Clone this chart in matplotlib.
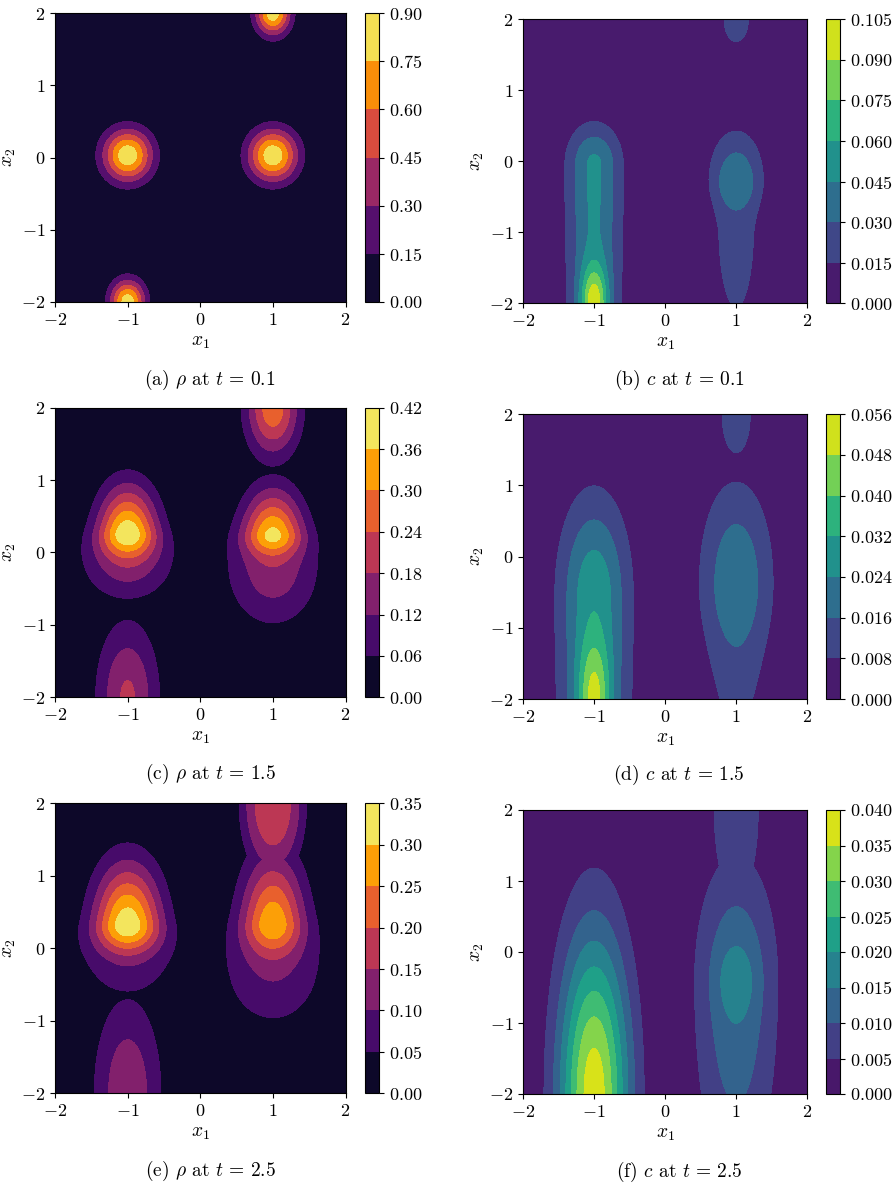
import numpy as np
import matplotlib
matplotlib.use("Agg")
import matplotlib.pyplot as plt

plt.rcParams['font.family'] = 'serif'
plt.rcParams['font.serif'] = ['cmr10']
plt.rcParams['mathtext.fontset'] = 'cm'
plt.rcParams['axes.formatter.use_mathtext'] = True
plt.rcParams['font.size'] = 13

# humps: (group, x0, y0, peak, sx, sy_up, sy_down, power)
# humps of one group add up, separate groups are combined by max
rho_t01 = [(0, -1.0, 0.03, 0.86, 0.235, 0.25, 0.25, 2),
           (1, 1.0, 0.03, 0.86, 0.235, 0.25, 0.25, 2),
           (2, -1.0, -2.0, 0.84, 0.165, 0.21, 0.21, 2),
           (3, 1.0, 2.0, 0.84, 0.165, 0.21, 0.21, 2)]
c_t01 = [(0, -1.0, -0.05, 0.048, 0.27, 0.40, 3.0, 2),
         (0, -1.0, -2.0, 0.064, 0.13, 0.37, 0.37, 2),
         (1, 1.0, -0.18, 0.031, 0.31, 0.53, 0.40, 3),
         (1, 1.0, -0.9, 0.021, 0.30, 0.45, 1.40, 2),
         (2, 1.0, 2.0, 0.025, 0.17, 0.31, 0.31, 2)]
rho_t15 = [(0, -1.0, 0.30, 0.345, 0.28, 0.45, 0.22, 2),
           (0, -1.0, -0.10, 0.16, 0.42, 0.30, 0.38, 2),
           (1, 1.0, 0.27, 0.30, 0.28, 0.446, 0.20, 2),
           (1, 1.0, -0.20, 0.16, 0.43, 0.40, 0.55, 2),
           (2, 1.0, 2.0, 0.28, 0.25, 0.46, 0.46, 2),
           (3, -1.0, -2.0, 0.19, 0.29, 0.70, 0.70, 2)]
c_t15 = [(0, -1.0, -0.55, 0.030, 0.34, 0.95, 3.0, 2),
         (0, -1.0, -2.0, 0.025, 0.15, 0.55, 0.55, 2),
         (1, 1.0, -0.28, 0.021, 0.36, 0.95, 0.80, 2),
         (1, 1.0, -2.0, 0.008, 0.33, 1.00, 1.00, 2),
         (2, 1.0, 2.0, 0.012, 0.22, 0.60, 0.60, 2)]
rho_t25 = [(0, -1.0, 0.35, 0.305, 0.32, 0.58, 0.26, 2),
           (0, -1.0, -0.10, 0.08, 0.50, 0.35, 0.50, 2),
           (1, 1.0, 0.38, 0.255, 0.30, 0.65, 0.30, 2),
           (1, 1.0, -0.25, 0.10, 0.50, 0.45, 0.60, 2),
           (2, 1.0, 2.0, 0.18, 0.34, 0.80, 0.80, 3),
           (3, -1.0, -2.0, 0.14, 0.32, 0.90, 0.90, 2)]
c_t25 = [(0, -1.0, -2.0, 0.038, 0.35, 1.58, 1.58, 2),
         (1, 1.0, -0.42, 0.0145, 0.40, 1.22, 1.97, 2),
         (1, 1.0, -0.42, 0.0045, 0.20, 0.35, 0.35, 2),
         (2, 1.0, 2.0, 0.0085, 0.30, 1.20, 1.20, 2)]

rho_t01_levels = [0.0, 0.15, 0.30, 0.45, 0.60, 0.75, 0.90]
c_t01_levels = [0.0, 0.015, 0.030, 0.045, 0.060, 0.075, 0.090, 0.105]
rho_t15_levels = [0.0, 0.06, 0.12, 0.18, 0.24, 0.30, 0.36, 0.42]
c_t15_levels = [0.0, 0.008, 0.016, 0.024, 0.032, 0.040, 0.048, 0.056]
rho_t25_levels = [0.0, 0.05, 0.10, 0.15, 0.20, 0.25, 0.30, 0.35]
c_t25_levels = [0.0, 0.005, 0.010, 0.015, 0.020, 0.025, 0.030, 0.035, 0.040]

captions = [r'(a) $\rho$ at $t\,=\,0.1$', r'(b) $c$ at $t\,=\,0.1$',
            r'(c) $\rho$ at $t\,=\,1.5$', r'(d) $c$ at $t\,=\,1.5$',
            r'(e) $\rho$ at $t\,=\,2.5$', r'(f) $c$ at $t\,=\,2.5$']

x = np.linspace(-2, 2, 301)
X, Y = np.meshgrid(x, x)


def field(humps, top):
    groups = {}
    for g, x0, y0, a, sx, su, sd, p in humps:
        sy = np.where(Y >= y0, su, sd)
        r2 = (X - x0)**2 / sx**2 + (Y - y0)**2 / sy**2
        z = a * np.exp(-0.5 * r2**(p / 2.0))
        groups[g] = groups.get(g, 0) + z
    Z = np.max(np.array(list(groups.values())), axis=0)
    return np.clip(Z, 0, top * 0.999)


W, H = 894, 1187
fig = plt.figure(figsize=(W / 100, H / 100), dpi=100)

def box(l, t, r, b):
    return [l / W, 1 - b / H, (r - l) / W, (b - t) / H]

panels = [
    (rho_t01, rho_t01_levels, 'inferno', (55, 13, 345.5, 302), (365, 379), 210, 380),
    (c_t01, c_t01_levels, 'viridis', (523, 19.3, 807.3, 303.3), (826, 840), 679, 380),
    (rho_t15, rho_t15_levels, 'inferno', (55, 407.7, 345.5, 697.3), (365, 379), 210, 774),
    (c_t15, c_t15_levels, 'viridis', (523, 414.3, 807.3, 699), (826, 840), 679, 775),
    (rho_t25, rho_t25_levels, 'inferno', (55, 803.3, 345.5, 1093.3), (365, 379), 210, 1171),
    (c_t25, c_t25_levels, 'viridis', (523, 810, 807.3, 1094), (826, 840), 679, 1172),
]

for i, (humps, levels, cmap, ab, cb, cx, cy) in enumerate(panels):
    ax = fig.add_axes(box(*ab))
    Z = field(humps, levels[-1])
    cs = ax.contourf(X, Y, Z, levels=levels, cmap=cmap)
    ax.set_xlim(-2, 2)
    ax.set_ylim(-2, 2)
    ax.set_xticks([-2, -1, 0, 1, 2])
    ax.set_yticks([-2, -1, 0, 1, 2])
    ax.set_xlabel(r'$x_1$', fontsize=14)
    ax.set_ylabel(r'$x_2$', fontsize=14)
    ax.yaxis.set_label_coords(-36.5 / (ab[2] - ab[0]), 0.5)
    cax = fig.add_axes(box(cb[0], ab[1], cb[1], ab[3]))
    fig.colorbar(cs, cax=cax, ticks=levels)
    fig.text(cx / W, 1 - cy / H, captions[i], ha='center', va='center', fontsize=14)

fig.savefig('out.png', dpi=100)
